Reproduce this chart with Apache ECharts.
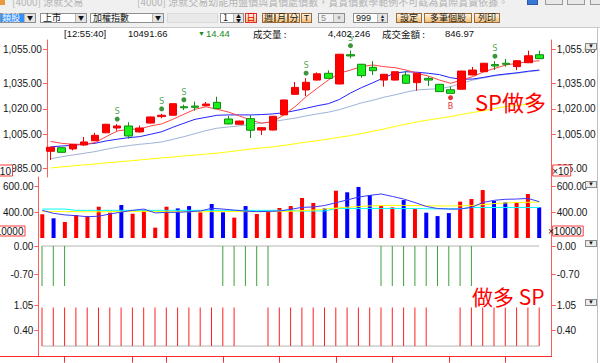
<!DOCTYPE html>
<html><head><meta charset="utf-8">
<script src="https://cdn.jsdelivr.net/npm/echarts@6/dist/echarts.min.js"></script>
<style>
body{margin:0;width:600px;height:363px;overflow:hidden;background:#fff;position:relative;font-family:"Liberation Sans Narrow","Liberation Sans","Noto Sans CJK TC",sans-serif;}
#chart{position:absolute;left:0;top:0;width:600px;height:363px;}
.a{position:absolute;box-sizing:border-box;white-space:nowrap;}
.cb{border:1px solid #8e8f8f;background:#fff;height:10.5px;top:12.5px;font-size:9px;line-height:8.5px;font-family:"Noto Sans CJK TC",sans-serif;color:#111;padding-left:2px;}
.arr{position:absolute;top:0;right:0;width:10px;height:100%;background:#e4e4e4;border-left:1px solid #b5b5b5;font-size:6px;line-height:8.5px;text-align:center;color:#111;padding:0;}
.btn{top:12.5px;height:10.5px;border:1px solid #9a6a3a;background:linear-gradient(#fff4e2,#f2bf78);font-size:9px;line-height:8.5px;text-align:center;color:#1a1a1a;font-family:"Noto Sans CJK TC",sans-serif;}
.info{top:29px;font-size:9.5px;line-height:10px;color:#111;font-family:"Liberation Sans Narrow","Liberation Sans","Noto Sans CJK TC",sans-serif;}
.tri{width:12px;height:7px;background:#ececec;border:1px solid #8a8a8a;font-size:6px;line-height:5px;text-align:center;color:#111;left:585px;}
</style></head><body>
<div id="chart"></div>

<!-- window / toolbar -->
<div class="a" style="left:0;top:0;width:600px;height:28px;background:#f0f0f0;border-bottom:1px solid #c8c8c8;overflow:hidden">
  <div class="a" style="left:0;top:0;width:5px;height:5px;background:#e89a3c"></div>
  <div class="a" style="left:12px;top:-6px;font-size:10px;color:#b4b4b4;font-family:'Noto Sans CJK TC'">[4000] 涼就交易</div>
  <div class="a" style="left:137px;top:-6px;font-size:10px;color:#b4b4b4;font-family:'Noto Sans CJK TC'">[4000] 涼就交易幼能用盤價與賞價處價數，賞賞價數學範例不可截為賞際賞賣依據。</div>
  <div class="a" style="left:527px;top:-4px;width:11px;height:9px;background:#3a78d8;border:1px solid #2a58a8"></div>
  <div class="a" style="left:545px;top:-4px;width:18px;height:9px;background:#e8e8e8;border:1px solid #9a9a9a"></div>
  <div class="a" style="left:567px;top:-4px;width:18px;height:9px;background:#e8e8e8;border:1px solid #9a9a9a"></div>
  <div class="a" style="left:590px;top:-4px;width:14px;height:9px;background:#e8e8e8;border:1px solid #9a9a9a"></div>

  <div class="a cb" style="left:0;width:36px;padding:0"><span class="a" style="left:0;top:0;width:23px;height:100%;background:#3390ff;color:#fff;padding-left:1px">類股</span><span class="arr">▼</span></div>
  <div class="a cb" style="left:40px;width:47px">上市<span class="arr">▼</span></div>
  <div class="a cb" style="left:90px;width:74px">加權指數<span class="arr">▼</span></div>
  <div class="a" style="left:167px;top:12.5px;width:51px;height:10.5px;background:#e9e9e9;border:1px solid #dadada"></div>
  <div class="a cb" style="left:220px;width:24px">1<span class="arr" style="width:9px;font-size:5px;line-height:4px">▲<br>▼</span></div>
  <div class="a btn" style="left:245px;width:12px;color:#e00000;border-color:#e03030">日</div>
  <div class="a btn" style="left:262px;width:13px">週</div>
  <div class="a btn" style="left:275px;width:13px">月</div>
  <div class="a btn" style="left:288px;width:12px">分</div>
  <div class="a btn" style="left:301px;width:11px;font-family:'Liberation Sans'">T</div>
  <div class="a cb" style="left:318px;width:27px;background:#f4f4f4;color:#888;font-family:'Liberation Sans'">5<span class="arr" style="color:#999">▼</span></div>
  <div class="a cb" style="left:353px;width:35px;font-family:'Liberation Sans'">999<span class="arr" style="width:9px;font-size:5px;line-height:4px">▲<br>▼</span></div>
  <div class="a btn" style="left:396px;width:26px">設定</div>
  <div class="a btn" style="left:424px;width:48px">多筆個股</div>
  <div class="a btn" style="left:474px;width:26px">列印</div>
</div>

<!-- info row -->
<div class="a info" style="left:64px">[12:55:40]</div>
<div class="a info" style="left:128px">10491.66</div>
<div class="a info" style="left:198px;color:#1a8a1a;font-size:7px">▼</div>
<div class="a info" style="left:206px;color:#1a8a1a">14.44</div>
<div class="a info" style="left:253px;font-family:'Noto Sans CJK TC'">成交量 :</div>
<div class="a info" style="left:328px">4,402,246</div>
<div class="a info" style="left:382px;font-family:'Noto Sans CJK TC'">成交金額 :</div>
<div class="a info" style="left:445px">846.97</div>

<div class="a" style="left:597px;top:28px;width:1px;height:335px;background:#c0c0c0"></div>
<div class="a tri" style="top:43px">▼</div>
<div class="a tri" style="top:181px">▼</div>
<div class="a tri" style="top:240px">▼</div>
<div class="a tri" style="top:299px">▼</div>

<script>
// ---------- data ----------
const dayIndex = Array.from({length: 45}, (_, i) => i); // trading days (categories)

const openPrices  = [995.0,997.1,996.4,998.7,1001.2,1005.9,1008.7,1009.9,1006.4,1011.6,
  1015.4,1016.2,1021.2,1021.6,1021.8,1023.8,1014.0,1010.9,1014.2,1007.5,
  1007.5,1016.4,1028.5,1031.1,1036.9,1040.9,1034.6,1051.8,1046.2,1044.4,
  1036.9,1036.9,1039.9,1035.4,1037.9,1034.4,1031.2,1031.5,1039.9,1041.8,
  1046.0,1046.8,1044.8,1047.1,1051.8];
const closePrices = [997.4,994.4,999.1,1000.5,1004.4,1010.9,1009.9,1004.0,1008.7,1015.2,
  1016.2,1023.0,1020.6,1020.9,1022.8,1020.1,1011.1,1012.8,1007.4,1008.9,
  1015.6,1025.2,1032.6,1035.6,1040.6,1037.9,1052.1,1051.1,1039.5,1042.4,
  1040.3,1041.8,1035.0,1040.9,1036.9,1030.1,1029.1,1042.2,1042.8,1046.8,
  1045.2,1046.2,1048.3,1051.2,1049.5];
const lowPrices   = [989.9,994.2,995.5,998.1,1001.0,1005.7,1007.1,1002.4,1006.0,1011.4,
  1014.4,1016.0,1019.3,1018.9,1021.6,1019.9,1010.9,1010.7,1002.8,1004.6,
  1007.3,1016.2,1028.3,1027.5,1036.7,1037.7,1034.4,1049.7,1038.3,1039.9,
  1033.0,1036.7,1034.8,1030.6,1033.4,1029.9,1028.9,1031.3,1039.7,1041.6,
  1042.8,1044.8,1042.8,1046.9,1049.3];
const highPrices  = [997.6,997.3,999.3,1003.4,1005.9,1011.1,1011.0,1012.1,1010.1,1015.4,
  1017.0,1023.2,1022.4,1024.2,1024.0,1027.1,1015.8,1013.0,1016.2,1009.1,
  1015.8,1025.4,1035.8,1038.0,1041.4,1042.6,1052.3,1054.2,1046.4,1048.0,
  1040.5,1042.0,1042.2,1041.1,1039.0,1034.6,1033.0,1042.4,1044.6,1047.0,
  1048.0,1049.3,1048.5,1054.2,1054.2];

const ma5  = [1000.8,999.7,999.1,999.1,1000.1,1003.6,1006.9,1007.9,1008.1,1009.9,
  1011.1,1013.8,1016.8,1019.7,1021.2,1019.7,1018.1,1015.8,1013.4,1011.5,
  1012.4,1016.4,1021.2,1027.1,1032.1,1036.9,1040.9,1042.8,1044.8,1045.8,
  1044.8,1044.2,1042.8,1040.9,1039.3,1036.9,1035.0,1036.9,1038.9,1041.8,
  1043.8,1045.8,1046.8,1047.7,1048.3];
const ma10 = [997.6,998.1,998.5,999.1,999.7,1001.1,1002.1,1003.0,1003.6,1005.0,
  1006.5,1009.1,1011.5,1013.8,1015.0,1016.2,1016.4,1016.4,1016.4,1016.6,
  1017.0,1017.7,1018.9,1020.3,1021.8,1023.0,1025.5,1029.3,1032.5,1035.3,
  1038.3,1041.0,1041.8,1041.5,1040.9,1040.1,1038.3,1037.4,1037.5,1038.5,
  1039.7,1040.5,1041.2,1042.1,1042.8];
const ma20 = [990.6,991.8,992.8,993.8,994.8,996.2,997.4,998.3,999.1,999.7,
  1000.5,1002.0,1003.6,1005.4,1007.2,1008.6,1009.3,1010.0,1010.8,1011.7,
  1012.5,1013.5,1014.5,1015.8,1017.0,1018.0,1019.5,1021.5,1023.5,1025.0,
  1026.8,1028.2,1029.8,1031.1,1031.5,1031.8,1033.0,1035.0,1036.9,1038.2,
  1039.4,1040.2,1040.9,1041.8,1042.5];
const ma60 = [985.2,985.8,986.4,987.0,987.5,988.2,988.7,989.3,989.9,990.5,
  991.1,991.6,992.3,992.8,993.4,993.9,994.7,995.5,996.3,997.0,
  997.6,998.5,999.4,1000.4,1001.2,1002.2,1003.3,1004.2,1005.5,1006.8,
  1008.1,1009.6,1011.0,1012.3,1013.4,1014.4,1015.4,1016.7,1017.8,1018.9,
  1020.2,1021.3,1022.0,1022.7,1023.4];

const volume = [388,357,328,382,375,446,400,459,392,421,
  285,446,433,451,403,467,403,362,451,390,
  408,436,451,513,475,433,569,557,598,536,
  451,441,497,428,400,374,397,485,505,574,
  490,480,480,544,441];
const volMaShort = [418,395,383,377,369,373,390,405,418,428,
  398,403,403,408,413,434,428,420,412,408,
  410,413,426,441,444,455,477,498,520,533,
  544,525,505,478,448,432,428,428,441,478,
  495,503,505,510,485];
const volMaMid = [410,409,408,408,407,407,408,409,410,410,
  409,408,408,407,407,408,409,409,408,408,
  408,409,411,415,420,428,435,442,447,452,
  455,456,456,455,453,452,452,453,455,462,
  470,475,478,480,482];
const volMaLong = [428,428,428,418,418,418,418,418,418,418,
  418,418,418,418,418,418,418,418,418,418,
  418,418,418,413,413,413,432,432,432,432,
  432,432,432,432,430,430,430,430,440,440,
  440,440,440,440,440];

const shortSignal = [-1,-1,-1,0,0,0,0,0,0,0,
  0,0,0,0,0,0,-1,-1,-1,-1,
  -1,0,0,0,0,0,0,0,0,0,
  -1,-1,-1,-1,-1,-1,-1,-1,-1,0,
  0,0,0,0,0];
const longSignal = [1,1,1,1,1,1,1,1,1,1,
  1,1,1,1,1,1,1,1,0,0,
  1,1,1,1,1,1,1,1,1,1,
  1,1,1,1,1,0,0,1,1,1,
  1,1,1,1,1];

const sellSignalDays = [6,10,12,23,27,40];
const buySignalDays = [36];

const priceTicks = [985,1005,1020,1035,1055];
const volumeTicks = [400,600];
const shortTicks = [-0.7,0];
const longTicks = [0.4,1.05];
const weekStartDays = [2,8,11,16,21,26,31,36,41];

// ---------- chart ----------
const RED_AXIS = '#ff5c5c';
const LABEL_FONT = '"Liberation Sans Narrow","Liberation Sans",sans-serif';
const fmt = v => Number(v).toLocaleString('en-US',{minimumFractionDigits:2,maximumFractionDigits:2});

const GL = 38.3, GR = 48.3;
const grids = [
  {left:GL, right:GR, top:40, height:137},
  {left:GL, right:GR, top:177, height:61},
  {left:GL, right:GR, top:238, height:55},
  {left:GL, right:GR, top:293, height:63.7}
];
const yRanges = [[979.88,1060.47],[205.4,674.5],[-1.175,0.2],[-0.276,1.38]];
const yTicks = [priceTicks, volumeTicks, shortTicks, longTicks];

const xAxes = grids.map((g, gi) => ({
  type:'value', gridIndex:gi, min:-0.327, max:45.107,
  splitLine:{show:false},
  axisLabel:{show:false},
  axisLine:{show: gi === 3, onZero:false, lineStyle:{color:'#ff2a2a', width:1}},
  axisTick:{show: gi === 3, customValues: weekStartDays, length:6, inside:false, lineStyle:{color:'#ff2a2a'}}
}));

const yAxes = [];
grids.forEach((g, gi) => {
  ['left','right'].forEach(pos => {
    yAxes.push({
      type:'value', gridIndex:gi, position:pos, min:yRanges[gi][0], max:yRanges[gi][1],
      splitLine:{show:false},
      axisLine:{show:true, onZero:false, lineStyle:{color:RED_AXIS, width:1}},
      axisTick:{show:true, length:4, customValues:yTicks[gi], lineStyle:{color:RED_AXIS}},
      axisLabel:{show:true, customValues:yTicks[gi], margin:5, formatter:fmt, color:'#151515', fontSize:10, fontFamily:LABEL_FONT}
    });
  });
});

const candleData = dayIndex.map(i => [i, openPrices[i], closePrices[i], lowPrices[i], highPrices[i]]);
const lineOf = arr => dayIndex.map(i => [i, arr[i]]);
const isUp = i => closePrices[i] >= openPrices[i];

function maLine(name, arr, color, xi, yi, z) {
  return {name, type:'line', xAxisIndex:xi, yAxisIndex:yi, data:lineOf(arr), symbol:'none',
    lineStyle:{color, width:1}, z: z || 2, silent:true, animation:false};
}

const series = [
  maLine('MA60', ma60, '#ffff00', 0, 0),
  maLine('MA20', ma20, '#9fb3d6', 0, 0),
  maLine('MA10', ma10, '#2323ff', 0, 0),
  maLine('MA5',  ma5,  '#ff4444', 0, 0),
  {
    name:'K', type:'candlestick', xAxisIndex:0, yAxisIndex:0, data:candleData,
    encode:{x:0, y:[1,2,3,4]}, barWidth:8, z:3,
    itemStyle:{color:'#ff0000', color0:'#19f019', borderColor:'#f00000', borderColor0:'#108a10', borderWidth:1}
  },
  {
    name:'S', type:'scatter', xAxisIndex:0, yAxisIndex:0, z:4,
    data: sellSignalDays.map(i => [i, highPrices[i]]),
    symbol:'circle', symbolSize:5, symbolOffset:[0,-5],
    itemStyle:{color:'#0b7a0b'},
    label:{show:true, position:'top', distance:1, formatter:'S', color:'#1f8f1f', fontSize:9, fontFamily:'DejaVu Sans Mono'}
  },
  {
    name:'B', type:'scatter', xAxisIndex:0, yAxisIndex:0, z:4,
    data: buySignalDays.map(i => [i, lowPrices[i]]),
    symbol:'circle', symbolSize:5, symbolOffset:[0,4],
    itemStyle:{color:'#e00000'},
    label:{show:true, position:'bottom', distance:1, formatter:'B', color:'#e00000', fontSize:9, fontFamily:'DejaVu Sans Mono'}
  },
  {
    name:'Volume', type:'bar', xAxisIndex:1, yAxisIndex:2, barWidth:4, z:2,
    data: dayIndex.map(i => ({value:[i, volume[i]], itemStyle:{color: isUp(i) ? '#ff0000' : '#0000ff'}}))
  },
  maLine('VolLong', volMaLong, '#00ffff', 1, 2, 3),
  maLine('VolMid', volMaMid, '#ffff00', 1, 2, 3),
  maLine('VolShort', volMaShort, '#3a3aff', 1, 2, 3),
  maLine('ShortBase', dayIndex.map(() => 0), '#b4b4b4', 2, 4, 1),
  {
    name:'Short', type:'bar', xAxisIndex:2, yAxisIndex:4, barWidth:1,
    data: dayIndex.map(i => shortSignal[i] ? [i, shortSignal[i]] : [i, '-']),
    itemStyle:{color:'#3f9f3f'}
  },
  maLine('LongBase', dayIndex.map(() => 0), '#b4b4b4', 3, 6, 1),
  {
    name:'Long', type:'bar', xAxisIndex:3, yAxisIndex:6, barWidth:1,
    data: dayIndex.map(i => longSignal[i] ? [i, longSignal[i]] : [i, '-']),
    itemStyle:{color:'#ff2020'}
  }
];

function box(x, y, w, h, text) {
  return {type:'group', z:100, children:[
    {type:'rect', shape:{x, y, width:w, height:h}, style:{fill:'#fff', stroke:'#ff3a3a', lineWidth:1}, z:100},
    {type:'text', z:101, style:{text, x:x+w-1.5, y:y+h/2+0.5, align:'right', textAlign:'right', verticalAlign:'middle', textVerticalAlign:'middle',
      font:'10px "Liberation Sans Narrow","Liberation Sans",sans-serif', fill:'#151515'}}
  ]};
}

const option = {
  animation:false,
  backgroundColor:'transparent',
  grid: grids,
  xAxis: xAxes,
  yAxis: yAxes,
  series,
  graphic: [
    {type:'line', z:50, shape:{x1:0, y1:356.5, x2:GL, y2:356.5}, style:{stroke:'#ff2a2a', lineWidth:1}},
    box(-6, 165, 18.5, 11, '×10'),
    box(552.7, 165, 18, 11, '×10'),
    box(-6, 226, 31, 10, '×10000'),
    box(552.7, 226, 30.5, 10, '×10000'),
    {type:'text', z:120, style:{text:'SP做多', x:475, y:100.5, verticalAlign:'middle', textVerticalAlign:'middle',
      font:'22px "Noto Sans CJK TC",sans-serif', fill:'#ff0000'}},
    {type:'text', z:120, style:{text:'做多 SP', x:472, y:295.5, verticalAlign:'middle', textVerticalAlign:'middle',
      font:'21px "Noto Sans CJK TC",sans-serif', fill:'#ff0000'}}
  ]
};

const chart = echarts.init(document.getElementById('chart'), null, {renderer:'svg', width:600, height:363});
chart.setOption(option);
</script>
</body></html>
